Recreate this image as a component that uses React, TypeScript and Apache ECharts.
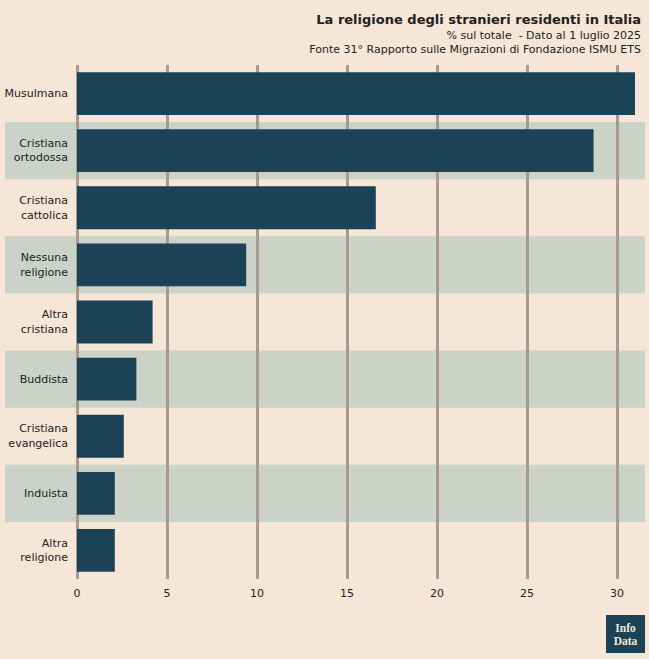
import React, { useEffect, useRef } from "react";
import * as echarts from "echarts";

const categories = [
  "Musulmana",
  "Cristiana ortodossa",
  "Cristiana cattolica",
  "Nessuna religione",
  "Altra cristiana",
  "Buddista",
  "Cristiana evangelica",
  "Induista",
  "Altra religione",
];
const values = [31.0, 28.7, 16.6, 9.4, 4.2, 3.3, 2.6, 2.1, 2.1];
const bandRows = [1, 3, 5, 7];

const TITLE = "La religione degli stranieri residenti in Italia";
const SUB1 = "% sul totale  - Dato al 1 luglio 2025";
const SUB2 = "Fonte 31° Rapporto sulle Migrazioni di Fondazione ISMU ETS";

const FONT = "DejaVu Sans";

export default function App() {
  const ref = useRef<HTMLDivElement>(null);
  useEffect(() => {
    if (!ref.current) return;
    const chart = echarts.init(ref.current, null, { renderer: "svg" });
    const txt = (text: string, y: number, font: string) => ({
      type: "text",
      x: 641,
      y,
      style: { text, fill: "#222", font, align: "right", verticalAlign: "middle" },
    });
    chart.setOption({
      animation: false,
      backgroundColor: "#f5e6d8",
      textStyle: { fontFamily: FONT },
      grid: { left: 77, right: 32, top: 65, bottom: 80, containLabel: false },
      xAxis: {
        type: "value",
        min: 0,
        max: 30,
        interval: 5,
        axisLine: { show: false },
        axisTick: { show: false },
        axisLabel: { color: "#222", fontSize: 11, margin: 9, fontFamily: FONT },
        splitLine: { show: true, lineStyle: { color: "#a89a92", width: 3 } },
      },
      yAxis: {
        type: "category",
        data: categories,
        inverse: true,
        axisLine: { show: false },
        axisTick: { show: false },
        splitLine: { show: false },
        axisLabel: {
          color: "#222",
          fontSize: 11,
          lineHeight: 14.5,
          margin: 9,
          padding: [3, 0, 0, 0],
          fontFamily: FONT,
          formatter: (v: string) => v.replace(" ", "\n"),
        },
      },
      series: [
        {
          type: "custom",
          z: -1,
          clip: false,
          silent: true,
          encode: { x: 0, y: 1 },
          data: bandRows.map((i) => [0, i]),
          renderItem: (params: any, api: any) => {
            const y = api.coord([0, api.value(1)])[1];
            const h = api.size([0, 1])[1];
            const w = api.getWidth();
            return {
              type: "rect",
              shape: { x: 5, y: y - h / 2, width: w - 9, height: h },
              style: { fill: "#cbd3c8" },
            };
          },
        },
        {
          type: "bar",
          data: values,
          barCategoryGap: "25%",
          clip: false,
          itemStyle: { color: "#1c4257" },
        },
      ],
      graphic: [
        txt(TITLE, 19, "bold 13px 'DejaVu Sans'"),
        txt(SUB1, 35, "11px 'DejaVu Sans'"),
        txt(SUB2, 49, "11px 'DejaVu Sans'"),
        {
          type: "group",
          right: 4,
          bottom: 6,
          children: [
            { type: "rect", shape: { x: 0, y: 0, width: 39, height: 38 }, style: { fill: "#1c4257" } },
            {
              type: "text",
              x: 19.5,
              y: 19,
              style: {
                text: "Info\nData",
                fill: "#f3e8dc",
                font: "bold 11.5px 'Liberation Serif', serif",
                lineHeight: 13,
                align: "center",
                verticalAlign: "middle",
              },
            },
          ],
        },
      ],
    });
    return () => chart.dispose();
  }, []);
  return (
    <div
      ref={ref}
      style={{ position: "fixed", left: 0, top: 0, width: 649, height: 659 }}
    />
  );
}
